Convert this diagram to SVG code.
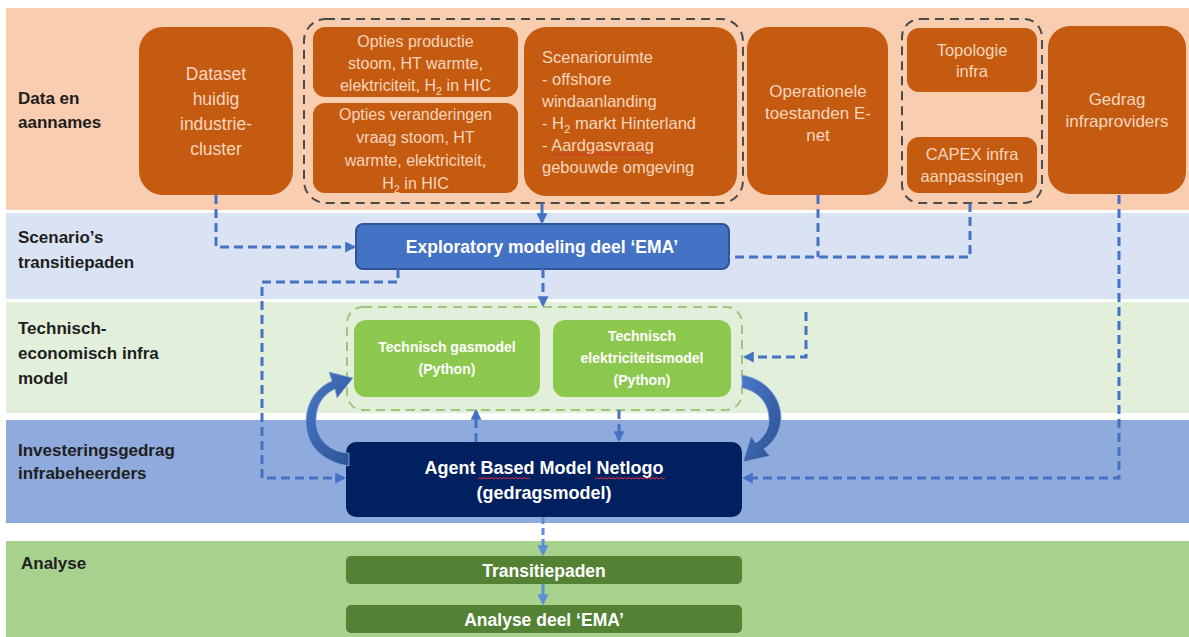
<svg xmlns="http://www.w3.org/2000/svg" width="1189" height="637" viewBox="0 0 1189 637">
  <style>
    .band-label { font-family: "Liberation Sans", Arial, sans-serif; font-weight: bold; font-size: 17px; fill: #1e1e1e; }
    .orange { fill: #C55A11; }
    .otext { font-family: "Liberation Sans", Arial, sans-serif; font-size: 16.5px; fill: #F9D6BD; text-anchor: middle; }
    .grp { fill: none; stroke: #4a4a4a; stroke-width: 2; stroke-dasharray: 9 6; }
    .wtext { font-family: "Liberation Sans", Arial, sans-serif; font-weight: bold; fill: #ffffff; text-anchor: middle; }
    .conn { fill: none; stroke: #4472C4; stroke-width: 3; stroke-dasharray: 9 5; }
    .conn-light { fill: none; stroke: #5B8ED6; stroke-width: 3; }
    .spell { fill: none; stroke: #E0303A; stroke-width: 1; }
  </style>
  <defs>
    <marker id="arrow" viewBox="0 0 10 10" refX="8" refY="5" markerWidth="11" markerHeight="11" markerUnits="userSpaceOnUse" orient="auto">
      <path d="M0,0 L10,5 L0,10 Z" fill="#4472C4"/>
    </marker>
    <marker id="arrow-light" viewBox="0 0 10 10" refX="8" refY="5" markerWidth="11" markerHeight="11" markerUnits="userSpaceOnUse" orient="auto">
      <path d="M0,0 L10,5 L0,10 Z" fill="#5B8ED6"/>
    </marker>
    <linearGradient id="curveFill" x1="0" y1="0" x2="1" y2="1">
      <stop offset="0" stop-color="#4A77C6"/>
      <stop offset="1" stop-color="#2B5295"/>
    </linearGradient>
  </defs>

  <rect width="1189" height="637" fill="#ffffff"/>

  <!-- horizontal bands -->
  <g id="bands">
    <rect x="6" y="8" width="1183" height="202" fill="#F8CDB0"/>
    <rect x="6" y="213" width="1183" height="86" fill="#DAE3F3"/>
    <rect x="6" y="302" width="1183" height="111" fill="#E2EFDA"/>
    <rect x="6" y="420" width="1183" height="103" fill="#8FAADC"/>
    <rect x="6" y="541" width="1183" height="96" fill="#A9D18E"/>
  </g>

  <g id="band-labels">
    <text class="band-label" x="18" y="104">Data en</text>
    <text class="band-label" x="18" y="128">aannames</text>
    <text class="band-label" x="18" y="243">Scenario’s</text>
    <text class="band-label" x="18" y="268">transitiepaden</text>
    <text class="band-label" x="18" y="334">Technisch-</text>
    <text class="band-label" x="18" y="359">economisch infra</text>
    <text class="band-label" x="18" y="384">model</text>
    <text class="band-label" x="18" y="456">Investeringsgedrag</text>
    <text class="band-label" x="18" y="479">infrabeheerders</text>
    <text class="band-label" x="21" y="569">Analyse</text>
  </g>

  <!-- input data nodes -->
  <g id="dataset">
    <rect class="orange" x="139" y="27" width="154" height="168" rx="24"/>
    <text class="otext" style="font-size:17.5px" x="216" y="80">Dataset</text>
    <text class="otext" style="font-size:17.5px" x="216" y="105">huidig</text>
    <text class="otext" style="font-size:17.5px" x="216" y="130">industrie-</text>
    <text class="otext" style="font-size:17.5px" x="216" y="155">cluster</text>
  </g>

  <g id="opties-groep">
    <rect class="grp" x="304" y="19" width="439" height="184" rx="22"/>
  </g>

  <g id="opties-productie">
    <rect class="orange" x="313" y="27" width="205" height="70" rx="12"/>
    <text class="otext" style="font-size:16px" x="415.5" y="47">Opties productie</text>
    <text class="otext" style="font-size:16px" x="415.5" y="69">stoom, HT warmte,</text>
    <text class="otext" style="font-size:16px" x="415.5" y="91">elektriciteit, H<tspan font-size="11" dy="4">2</tspan><tspan dy="-4"> in HIC</tspan></text>
  </g>

  <g id="opties-vraag">
    <rect class="orange" x="313" y="103" width="205" height="90" rx="12"/>
    <text class="otext" style="font-size:16px" x="415.5" y="120">Opties veranderingen</text>
    <text class="otext" style="font-size:16px" x="415.5" y="143">vraag stoom, HT</text>
    <text class="otext" style="font-size:16px" x="415.5" y="166">warmte, elektriciteit,</text>
    <text class="otext" style="font-size:16px" x="415.5" y="189">H<tspan font-size="11" dy="4">2</tspan><tspan dy="-4"> in HIC</tspan></text>
  </g>

  <g id="scenarioruimte">
    <rect class="orange" x="524" y="27" width="213" height="169" rx="22"/>
    <text class="otext" style="text-anchor:start" x="542" y="63">Scenarioruimte</text>
    <text class="otext" style="text-anchor:start" x="542" y="85">- offshore</text>
    <text class="otext" style="text-anchor:start" x="542" y="107">windaanlanding</text>
    <text class="otext" style="text-anchor:start" x="542" y="129">- H<tspan font-size="11.5" dy="4">2</tspan><tspan dy="-4"> markt Hinterland</tspan></text>
    <text class="otext" style="text-anchor:start" x="542" y="151">- Aardgasvraag</text>
    <text class="otext" style="text-anchor:start" x="542" y="173">gebouwde omgeving</text>
    <path class="spell" d="M552,155 l2,-1.5 l2,1.5 l2,-1.5 l2,1.5 l2,-1.5 l2,1.5 l2,-1.5 l2,1.5 l2,-1.5 l2,1.5 l2,-1.5 l2,1.5 l2,-1.5 l2,1.5 l2,-1.5 l2,1.5 l2,-1.5 l2,1.5 l2,-1.5 l2,1.5 l2,-1.5 l2,1.5 l2,-1.5 l2,1.5 l2,-1.5 l2,1.5 l2,-1.5 l2,1.5 l2,-1.5 l2,1.5 l2,-1.5 l2,1.5 l2,-1.5 l2,1.5 l2,-1.5 l2,1.5 l2,-1.5 l2,1.5 l2,-1.5 l2,1.5 l2,-1.5 l2,1.5 l2,-1.5 l2,1.5 l2,-1.5 l2,1.5 l2,-1.5 l2,1.5 l2,-1.5 l2,1.5"/>
  </g>

  <g id="operationele">
    <rect class="orange" x="747" y="27" width="141" height="168" rx="22"/>
    <text class="otext" style="font-size:17px" x="818" y="97">Operationele</text>
    <text class="otext" style="font-size:17px" x="818" y="119">toestanden E-</text>
    <text class="otext" style="font-size:17px" x="818" y="141">net</text>
  </g>

  <g id="infra-groep">
    <rect class="grp" x="902" y="19" width="140" height="184" rx="18"/>
  </g>

  <g id="topologie">
    <rect class="orange" x="907" y="28" width="130" height="64" rx="12"/>
    <text class="otext" x="972" y="56">Topologie</text>
    <text class="otext" x="972" y="77">infra</text>
  </g>

  <g id="capex">
    <rect class="orange" x="907" y="137" width="130" height="56" rx="12"/>
    <text class="otext" x="972" y="160">CAPEX infra</text>
    <text class="otext" x="972" y="182">aanpassingen</text>
  </g>

  <g id="gedrag">
    <rect class="orange" x="1048" y="26" width="138" height="168" rx="22"/>
    <text class="otext" style="font-size:17px" x="1117" y="105">Gedrag</text>
    <text class="otext" style="font-size:17px" x="1117" y="127">infraproviders</text>
  </g>

  <!-- scenario layer -->
  <g id="ema">
    <rect x="356" y="224" width="373" height="45" rx="7" fill="#4472C4" stroke="#2F5597" stroke-width="2"/>
    <text class="wtext" style="font-size:17.5px" x="542" y="253">Exploratory modeling deel ‘EMA’</text>
  </g>

  <!-- technical-economic layer -->
  <g id="techniek-groep">
    <rect x="347" y="307" width="395" height="103" rx="16" fill="none" stroke="#9DC77A" stroke-width="2" stroke-dasharray="9 6"/>
  </g>

  <g id="gasmodel">
    <rect x="354" y="320" width="186" height="77" rx="12" fill="#8DC84E"/>
    <text class="wtext" style="font-size:14px" x="447" y="352">Technisch gasmodel</text>
    <text class="wtext" style="font-size:14px" x="447" y="374">(Python)</text>
  </g>

  <g id="elektriciteitsmodel">
    <rect x="553" y="320" width="178" height="77" rx="12" fill="#8DC84E"/>
    <text class="wtext" style="font-size:14px" x="642" y="341">Technisch</text>
    <text class="wtext" style="font-size:14px" x="642" y="363">elektriciteitsmodel</text>
    <text class="wtext" style="font-size:14px" x="642" y="385">(Python)</text>
  </g>

  <!-- behaviour layer -->
  <g id="abm">
    <rect x="346" y="442" width="396" height="75" rx="10" fill="#002060"/>
    <text class="wtext" style="font-size:18px" x="544" y="474">Agent Based Model Netlogo</text>
    <text class="wtext" style="font-size:18px" x="544" y="499">(gedragsmodel)</text>
    <path class="spell" d="M478,479 l2,-1.5 l2,1.5 l2,-1.5 l2,1.5 l2,-1.5 l2,1.5 l2,-1.5 l2,1.5 l2,-1.5 l2,1.5 l2,-1.5 l2,1.5 l2,-1.5 l2,1.5 l2,-1.5 l2,1.5 l2,-1.5 l2,1.5 l2,-1.5 l2,1.5 l2,-1.5 l2,1.5 l2,-1.5 l2,1.5 l2,-1.5 l2,1.5"/>
    <path class="spell" d="M595,479 l2,-1.5 l2,1.5 l2,-1.5 l2,1.5 l2,-1.5 l2,1.5 l2,-1.5 l2,1.5 l2,-1.5 l2,1.5 l2,-1.5 l2,1.5 l2,-1.5 l2,1.5 l2,-1.5 l2,1.5 l2,-1.5 l2,1.5 l2,-1.5 l2,1.5 l2,-1.5 l2,1.5 l2,-1.5 l2,1.5 l2,-1.5 l2,1.5 l2,-1.5 l2,1.5 l2,-1.5 l2,1.5 l2,-1.5 l2,1.5 l2,-1.5 l2,1.5 l2,-1.5"/>
  </g>

  <!-- analysis layer -->
  <g id="transitiepaden">
    <rect x="346" y="556" width="396" height="28" rx="5" fill="#548235"/>
    <text class="wtext" style="font-size:17.5px" x="544" y="577">Transitiepaden</text>
  </g>

  <g id="analyse-ema">
    <rect x="346" y="605" width="396" height="28" rx="5" fill="#548235"/>
    <text class="wtext" style="font-size:17.5px" x="544" y="626">Analyse deel ‘EMA’</text>
  </g>

  <!-- connectors -->
  <g id="connectors">
    <path class="conn" d="M216,195 V247 H354" marker-end="url(#arrow)"/>
    <path class="conn" style="stroke-dasharray:none" d="M542,203 V222" marker-end="url(#arrow)"/>
    <path class="conn" d="M970,203 V257 H729"/>
    <path class="conn" d="M818,195 V257"/>
    <path class="conn" d="M398,269 V282 H262 V478 H344" marker-end="url(#arrow)"/>
    <path class="conn" d="M543,269 V305" marker-end="url(#arrow)"/>
    <path class="conn" d="M806,312 V357 H745" marker-end="url(#arrow)"/>
    <path class="conn" d="M1119,195 V478 H744" marker-end="url(#arrow)"/>
    <path class="conn" d="M476,442 V411" marker-end="url(#arrow)"/>
    <path class="conn" d="M619,410 V440" marker-end="url(#arrow)"/>
    <path class="conn-light" style="stroke-dasharray:7 4" d="M543,517 V554" marker-end="url(#arrow-light)"/>
    <path class="conn-light" d="M543,584 V603" marker-end="url(#arrow-light)"/>

    <!-- curved feedback arrows between the behaviour model and the technical models -->
    <path d="M349,466 C322,462 305,445 306,420 C307,400 318,387 332,381 L329,372 L353,378 L337,398 L335,389 C324,394 316,404 316,420 C316,440 330,452 349,453 Z" fill="url(#curveFill)" stroke="#8FAADC" stroke-width="0.8"/>
    <path d="M742,375 C766,379 782,398 781,420 C780,433 773,443 764,449 L770,456 L743,462 L751,436 L756,443 C764,437 769,429 769,420 C769,403 758,391 742,388 Z" fill="url(#curveFill)" stroke="#8FAADC" stroke-width="0.8"/>
  </g>
</svg>
